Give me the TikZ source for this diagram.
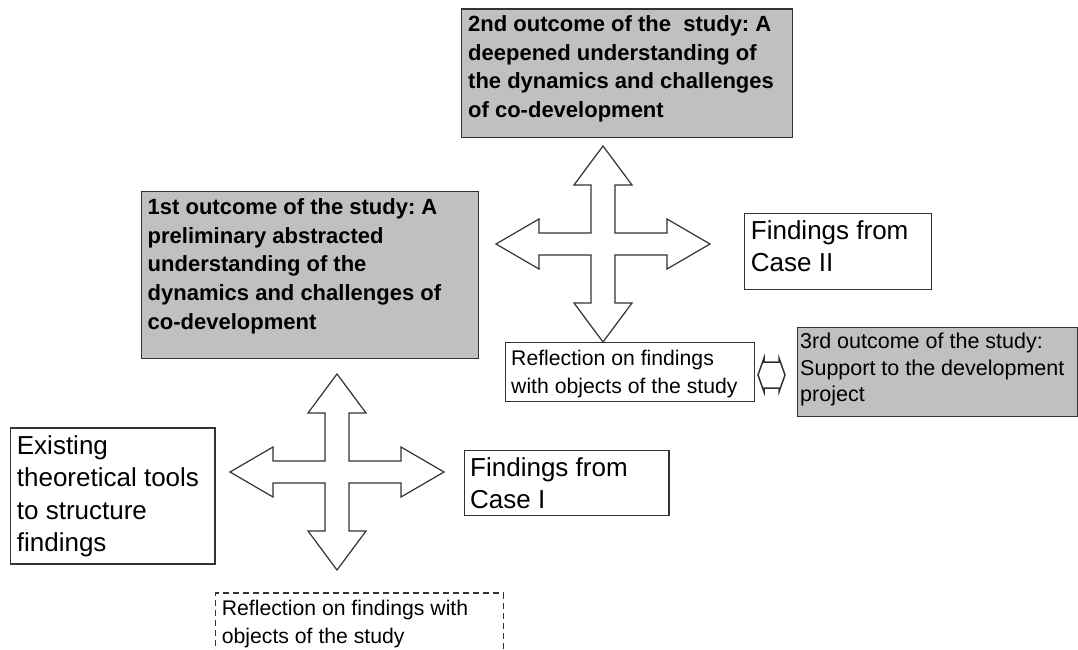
\documentclass[tikz,border=0pt]{standalone}
\usepackage{fontspec}
\setmainfont{Liberation Sans}
\definecolor{boxgray}{HTML}{C0C0C0}
\definecolor{linegray}{HTML}{333333}
\frenchspacing
\begin{document}
\begin{tikzpicture}[x=1pt,y=-1pt,
  box/.style={draw=linegray, line width=1.4pt, inner sep=0pt, anchor=north west},
  graybox/.style={box, fill=boxgray},
  dashbox/.style={box, dash pattern=on 6pt off 4pt, line width=1.2pt},
  txt/.style={inner sep=0pt, anchor=base west},
  bigtxt/.style={txt, font=\fontsize{26}{32.5}\selectfont},
  smalltxt/.style={txt, font=\fontsize{21.2}{28.3}\selectfont},
  boldtxt/.style={txt, font=\fontsize{22}{28.7}\selectfont\bfseries},
  arrowshape/.style={draw=linegray, line width=1.2pt, fill=white, line join=miter},
  crossarrow/.pic={
    \draw[arrowshape] (0,-98) -- (29,-59) -- (12,-59) -- (12,-11) -- (64,-11) -- (64,-25)
      -- (107,0) -- (64,25) -- (64,11) -- (12,11) -- (12,59) -- (29,59) -- (0,98)
      -- (-29,59) -- (-12,59) -- (-12,11) -- (-64,11) -- (-64,25) -- (-107,0)
      -- (-64,-25) -- (-64,-11) -- (-12,-11) -- (-12,-59) -- (-29,-59) -- cycle;
  }
]
\useasboundingbox (0,0) rectangle (1078,650);
\clip (0,0) rectangle (1078,650);
\fill[white] (0,0) rectangle (1078,650);

% cross arrows
\pic (xa) at (603,244) {crossarrow};
\pic (xb) at (337,472) {crossarrow};

% boxes
\node[graybox, minimum width=331pt, minimum height=128pt] (o2) at (460.5,8.5) {};
\node[boldtxt] (o2t) at (468,31.5) {\parbox[t]{400pt}{2nd outcome of the\ \ study: A\\deepened understanding of\\the dynamics and challenges\\of co-development}};

\node[graybox, minimum width=336.5pt, minimum height=166.5pt] (o1) at (141,191) {};
\node[boldtxt] (o1t) at (147.5,214.3) {\parbox[t]{400pt}{1st outcome of the study: A\\preliminary abstracted\\understanding of the\\dynamics and challenges of\\co-development}};

\node[box, minimum width=186.5pt, minimum height=76pt] (c2) at (744,212.5) {};
\node[bigtxt] (c2t) at (750.7,239.3) {\parbox[t]{300pt}{Findings from\\Case II}};

\node[box, minimum width=249pt, minimum height=59pt] (r1) at (505,342) {};
\node[smalltxt] (r1t) at (511,365) {\parbox[t]{300pt}{Reflection on findings\\with objects of the study}};

\node[graybox, minimum width=280pt, minimum height=89pt] (o3) at (797,326.5) {};
\node[txt, font=\fontsize{21.5}{26.7}\selectfont] (o3t) at (800,348.3) {\parbox[t]{300pt}{3rd outcome of the study:\\Support to the development\\project}};

\node[box, minimum width=204.3pt, minimum height=136pt] (ex) at (10,427.3) {};
\node[bigtxt] (ext) at (16.7,454.3) {\parbox[t]{300pt}{Existing\\theoretical tools\\to structure\\findings}};

\node[box, minimum width=204.3pt, minimum height=65pt] (c1) at (464,450) {};
\node[txt, font=\fontsize{26}{31.7}\selectfont] (c1t) at (470,476.7) {\parbox[t]{300pt}{Findings from\\Case I}};

\node[dashbox, minimum width=287.7pt, minimum height=78pt] (r2) at (215,592.3) {};
\node[smalltxt] (r2t) at (221.7,615) {\parbox[t]{300pt}{Reflection on findings with\\objects of the study}};

% small double arrow between reflection and 3rd outcome
\draw[arrowshape, line width=1.5pt] (758,375) -- (764,358) -- (764,362) -- (779,362) -- (779,358)
  -- (785,375) -- (779,392) -- (779,388) -- (764,388) -- (764,392) -- cycle;
\end{tikzpicture}
\end{document}
